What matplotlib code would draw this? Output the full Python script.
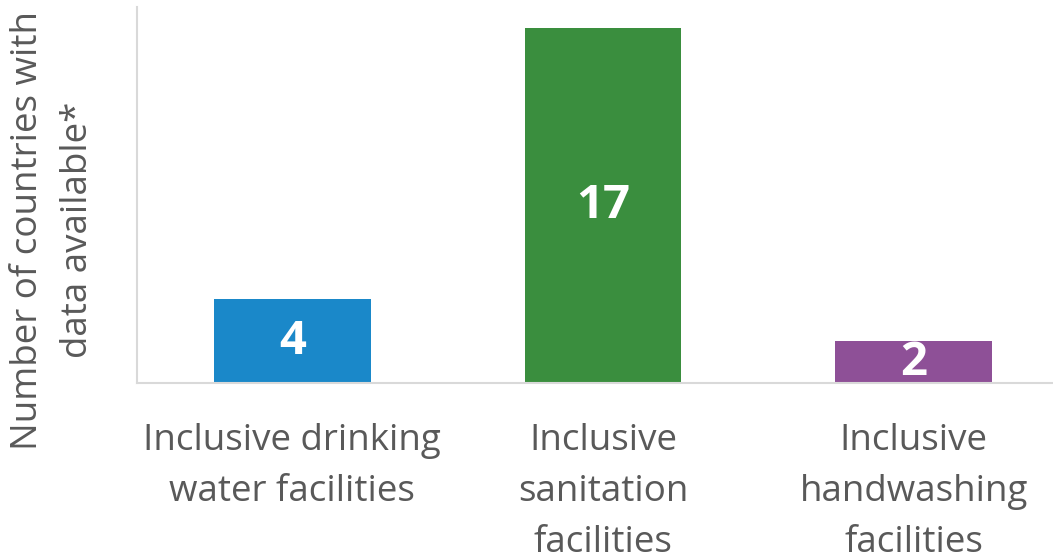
import matplotlib
matplotlib.use("Agg")
import matplotlib.pyplot as plt

plt.rcParams["font.family"] = ["Open Sans", "DejaVu Sans"]

# ----------------------------------------
# Data
# ----------------------------------------
categories = ["Inclusive drinking\nwater facilities",
              "Inclusive\nsanitation\nfacilities",
              "Inclusive\nhandwashing\nfacilities"]
counts = [4, 17, 2]
colors = ["#1A88C9", "#3A8E3E", "#8E5097"]

grey_text = "#595959"
axis_grey = "#D9D9D9"

fig = plt.figure(figsize=(10.53, 5.58), dpi=100)
# axes runs past the right edge like the cropped original
ax = fig.add_axes([0.1301, 0.3136, 0.885, 0.674])

x = range(len(counts))
bars = ax.bar(x, counts, width=0.505, color=colors)

for b, v in zip(bars, counts):
    ax.text(b.get_x() + b.get_width() / 2, v / 2, str(v),
            ha="center", va="center", color="white",
            fontsize=34, fontweight="bold")

ax.set_xlim(-0.5, 2.5)
ax.set_ylim(0, 18)
ax.set_xticks(list(x))
ax.set_xticklabels(categories, fontsize=26.5, color=grey_text, linespacing=1.55,
                   va="top")
ax.tick_params(axis="x", length=0, pad=29)
ax.set_yticks([])

for s in ["top", "right"]:
    ax.spines[s].set_visible(False)
for s in ["left", "bottom"]:
    ax.spines[s].set_color(axis_grey)
    ax.spines[s].set_linewidth(1.5)

fig.text(53 / 1053, 1 - 230 / 558, "Number of countries with\ndata available*",
         rotation=90, ha="center", va="center", fontsize=26.5,
         color=grey_text, linespacing=1.5, multialignment="center")

plt.savefig("out.png", dpi=100)
